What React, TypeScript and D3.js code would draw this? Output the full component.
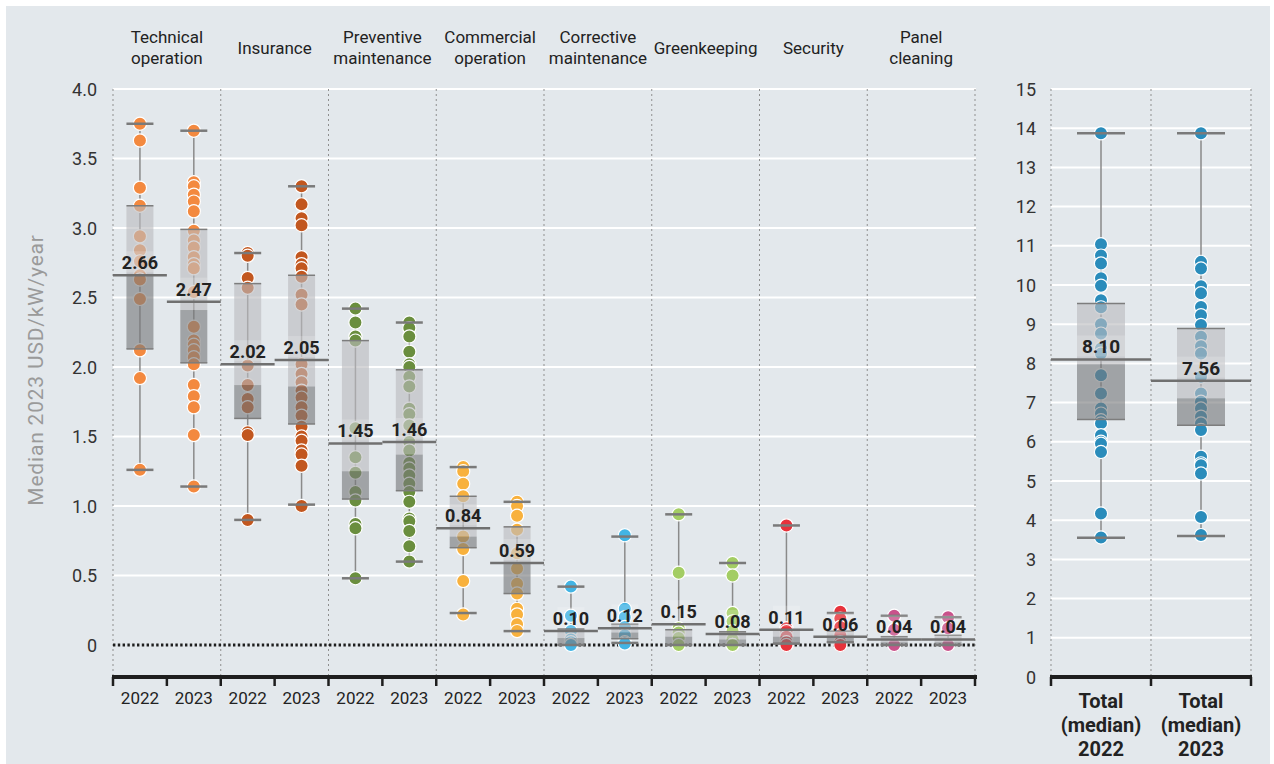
import React from "react";
import * as d3 from "d3";

const categories = ["Technical operation", "Insurance", "Preventive maintenance", "Commercial operation", "Corrective maintenance", "Greenkeeping", "Security", "Panel cleaning"];
const categoryLines = [["Technical", "operation"], ["Insurance"], ["Preventive", "maintenance"], ["Commercial", "operation"], ["Corrective", "maintenance"], ["Greenkeeping"], ["Security"], ["Panel", "cleaning"]];
const years = ["2022", "2023"];
const categoryColors = ["#f3893f", "#c2571f", "#6a8e3e", "#f8b13d", "#42b4e4", "#a3cd63", "#e7323b", "#c9528b"];
const totalColor = "#2a8cbb";

// points per category: [2022, 2023]
const technicalOperation = [
  [3.75, 3.63, 3.29, 3.16, 2.94, 2.84, 2.76, 2.66, 2.63, 2.49, 2.12, 1.92, 1.26],
  [3.70, 3.33, 3.30, 3.24, 3.19, 3.12, 2.98, 2.91, 2.86, 2.79, 2.74, 2.71, 2.54, 2.29, 2.19, 2.16, 2.12, 2.07, 2.02, 1.87, 1.79, 1.71, 1.51, 1.14],
];
const insurance = [
  [2.82, 2.80, 2.64, 2.57, 2.01, 1.87, 1.77, 1.71, 1.53, 1.51, 0.90],
  [3.30, 3.17, 3.07, 3.02, 2.79, 2.74, 2.71, 2.65, 2.52, 2.45, 2.02, 1.95, 1.89, 1.83, 1.78, 1.71, 1.65, 1.57, 1.50, 1.47, 1.40, 1.37, 1.29, 1.00],
];
const preventiveMaintenance = [
  [2.42, 2.32, 2.22, 2.19, 1.56, 1.35, 1.24, 1.10, 1.04, 0.87, 0.84, 0.48],
  [2.32, 2.28, 2.22, 2.11, 2.02, 2.00, 1.93, 1.86, 1.70, 1.66, 1.58, 1.46, 1.40, 1.31, 1.27, 1.22, 1.16, 1.10, 1.03, 0.91, 0.89, 0.82, 0.71, 0.60],
];
const commercialOperation = [
  [1.28, 1.25, 1.16, 1.07, 0.78, 0.69, 0.46, 0.22],
  [1.03, 1.00, 0.93, 0.83, 0.66, 0.55, 0.44, 0.37, 0.26, 0.22, 0.15, 0.10],
];
const correctiveMaintenance = [
  [0.42, 0.21, 0.10, 0.04, 0.02, 0.0, 0.0],
  [0.79, 0.26, 0.20, 0.13, 0.07, 0.02, 0.01],
];
const greenkeeping = [
  [0.94, 0.52, 0.12, 0.09, 0.05, 0.0],
  [0.59, 0.50, 0.23, 0.17, 0.10, 0.04, 0.0, 0.0],
];
const security = [
  [0.86, 0.12, 0.10, 0.06, 0.02, 0.0],
  [0.24, 0.19, 0.13, 0.07, 0.02, 0.0],
];
const panelCleaning = [
  [0.21, 0.11, 0.0],
  [0.20, 0.12, 0.0],
];
const categoryPoints = [technicalOperation, insurance, preventiveMaintenance, commercialOperation, correctiveMaintenance, greenkeeping, security, panelCleaning];

// box statistics, order: category x year
const boxMin = [1.26, 1.14, 0.90, 1.01, 0.48, 0.60, 0.23, 0.10, 0.0, 0.015, 0.0, 0.0, 0.01, 0.02, 0.0, 0.0];
const boxQ1 = [2.13, 2.03, 1.63, 1.59, 1.05, 1.11, 0.70, 0.37, 0.0, 0.045, 0.0, 0.0, 0.01, 0.02, 0.0, 0.0];
const boxMid = [2.67, 2.41, 1.87, 1.86, 1.25, 1.37, 0.78, 0.59, 0.05, 0.09, 0.06, 0.04, 0.06, 0.06, 0.02, 0.02];
const boxQ3 = [3.16, 2.99, 2.60, 2.66, 2.19, 1.98, 1.07, 0.85, 0.115, 0.15, 0.11, 0.095, 0.11, 0.10, 0.06, 0.07];
const boxMax = [3.75, 3.70, 2.82, 3.30, 2.42, 2.32, 1.28, 1.03, 0.42, 0.78, 0.94, 0.59, 0.86, 0.23, 0.21, 0.20];
const medianValues = [2.66, 2.47, 2.02, 2.05, 1.45, 1.46, 0.84, 0.59, 0.10, 0.12, 0.15, 0.08, 0.11, 0.06, 0.04, 0.04];

const totalLabels = ["2022", "2023"];
const totalPoints = [
  [13.87, 11.04, 10.75, 10.55, 10.17, 9.98, 9.61, 9.43, 9.0, 8.76, 8.38, 8.25, 7.70, 7.23, 6.85, 6.72, 6.55, 6.47, 6.17, 6.0, 5.95, 5.74, 4.17, 3.56],
  [13.87, 10.59, 10.42, 9.97, 9.79, 9.44, 9.23, 8.98, 8.68, 8.44, 8.25, 7.66, 7.23, 7.02, 6.85, 6.64, 6.47, 6.30, 5.62, 5.45, 5.40, 5.19, 4.08, 3.62],
];
const totalMin = [3.55, 3.60];
const totalQ1 = [6.57, 6.42];
const totalMid = [7.98, 7.11];
const totalQ3 = [9.53, 8.89];
const totalMax = [13.87, 13.87];
const totalMedian = [8.10, 7.56];

const leftTicks = [0, 0.5, 1.0, 1.5, 2.0, 2.5, 3.0, 3.5, 4.0];
const rightTicks = d3.range(0, 16);

const FONT = "Roboto, 'Noto Sans', sans-serif";
const BG = "#e3e8ec";
const LIGHT = "#bbbcbe";
const DARK = "#77797b";
const BOX_OPACITY = 0.62;

function BoxGroup({ cx, bandX0, bandW, boxW, y, pts, color, mn, q1, mid, q3, mx, med, fontSize }) {
  return (
    <g>
      <line x1={cx} x2={cx} y1={y(mx)} y2={y(mn)} stroke="#8a8a8a" strokeWidth={1.5} />
      {pts.map((v, i) => (
        <circle key={i} cx={cx} cy={y(v)} r={6.6} fill={color} stroke="#ffffff" strokeWidth={1.2} />
      ))}
      <rect x={cx - boxW / 2} y={y(q3)} width={boxW} height={Math.max(0, y(mid) - y(q3))} fill={LIGHT} opacity={BOX_OPACITY} />
      <rect x={cx - boxW / 2} y={y(mid)} width={boxW} height={Math.max(0, y(q1) - y(mid))} fill={DARK} opacity={BOX_OPACITY} />
      <line x1={cx - boxW / 2} x2={cx + boxW / 2} y1={y(q3)} y2={y(q3)} stroke="#7d7d7d" strokeWidth={1.5} />
      <line x1={cx - boxW / 2} x2={cx + boxW / 2} y1={y(q1)} y2={y(q1)} stroke="#7d7d7d" strokeWidth={1.5} />
      <line x1={cx - boxW / 2} x2={cx + boxW / 2} y1={y(mx)} y2={y(mx)} stroke="#7a7a7a" strokeWidth={2.5} />
      <line x1={cx - boxW / 2} x2={cx + boxW / 2} y1={y(mn)} y2={y(mn)} stroke="#7a7a7a" strokeWidth={2.5} />
      <rect x={cx - boxW / 2} y={y(med) - 24} width={boxW} height={21} fill="#ffffff" opacity={0.18} />
      <line x1={bandX0} x2={bandX0 + bandW} y1={y(med)} y2={y(med)} stroke="#707070" strokeWidth={2.5} />
      <text x={cx} y={y(med) - 6} textAnchor="middle" fontFamily={FONT} fontWeight={700} fontSize={fontSize} fill="#222">
        {med.toFixed(2)}
      </text>
    </g>
  );
}

export default function App() {
  const W = 1274, H = 764;
  const xCat = d3.scaleBand().domain(categories).range([113, 975]).padding(0);
  const xYear = d3.scaleBand().domain(years).range([0, xCat.bandwidth()]).padding(0);
  const yL = d3.scaleLinear().domain([0, 4]).range([645, 89]);
  const axisY = 677;
  const xTot = d3.scaleBand().domain(totalLabels).range([1051, 1251]).padding(0);
  const yR = d3.scaleLinear().domain([0, 15]).range([677, 89]);

  const leftBoundaries = categories.map((c) => xCat(c)).concat([xCat.range()[1]]);
  const leftSubBoundaries = [];
  categories.forEach((c) => years.forEach((yr) => leftSubBoundaries.push(xCat(c) + xYear(yr))));
  leftSubBoundaries.push(xCat.range()[1]);
  const rightBoundaries = totalLabels.map((t) => xTot(t)).concat([xTot.range()[1]]);

  return (
    <div style={{ position: "absolute", left: 0, top: 0 }}>
      <svg width={W} height={H} style={{ display: "block" }}>
        <rect x={0} y={0} width={W} height={H} fill="#ffffff" />
        <rect x={6} y={6} width={W - 10} height={H - 6} fill={BG} />

        {/* Left panel grid */}
        {leftTicks.filter((t) => t > 0).map((t) => (
          <line key={t} x1={113} x2={976} y1={yL(t)} y2={yL(t)} stroke="#ffffff" strokeWidth={2} />
        ))}
        {leftBoundaries.map((x, i) => (
          <line key={i} x1={x} x2={x} y1={89} y2={axisY} stroke="#8f8f8f" strokeWidth={1} strokeDasharray="2 3" />
        ))}
        <line x1={113} x2={976} y1={yL(0)} y2={yL(0)} stroke="#1e1e1e" strokeWidth={2.8} strokeDasharray="2.4 2.4" />
        {leftTicks.map((t) => (
          <text key={t} x={97} y={yL(t) + 6.5} textAnchor="end" fontFamily={FONT} fontSize={18} fill="#333">
            {t === 0 ? "0" : t.toFixed(1)}
          </text>
        ))}
        <text transform={`translate(43,370) rotate(-90)`} textAnchor="middle" fontFamily={FONT} fontSize={21} letterSpacing={0.8} fill="#9a9a9a">
          Median 2023 USD/kW/year
        </text>

        {/* Category headers */}
        {categories.map((c, i) => {
          const lines = categoryLines[i];
          const cx = xCat(c) + xCat.bandwidth() / 2;
          const ys = lines.length === 2 ? [43, 64] : [54];
          return lines.map((ln, j) => (
            <text key={c + j} x={cx} y={ys[j]} textAnchor="middle" fontFamily={FONT} fontSize={17} fill="#222">
              {ln}
            </text>
          ));
        })}

        {/* Left boxes */}
        {categories.map((c, ci) =>
          years.map((yr, yi) => {
            const idx = ci * 2 + yi;
            const bandX0 = xCat(c) + xYear(yr);
            const cx = bandX0 + xYear.bandwidth() / 2;
            return (
              <BoxGroup key={c + yr} cx={cx} bandX0={bandX0} bandW={xYear.bandwidth()} boxW={27} y={yL}
                pts={categoryPoints[ci][yi]} color={categoryColors[ci]}
                mn={boxMin[idx]} q1={boxQ1[idx]} mid={boxMid[idx]} q3={boxQ3[idx]} mx={boxMax[idx]} med={medianValues[idx]} fontSize={18} />
            );
          })
        )}

        {/* Left axis */}
        <line x1={112} x2={977} y1={axisY} y2={axisY} stroke="#1e1e1e" strokeWidth={4} />
        {leftSubBoundaries.map((x, i) => (
          <line key={i} x1={x} x2={x} y1={axisY} y2={axisY + 9} stroke="#1e1e1e" strokeWidth={2.5} />
        ))}
        {categories.map((c) =>
          years.map((yr) => (
            <text key={c + yr} x={xCat(c) + xYear(yr) + xYear.bandwidth() / 2} y={704} textAnchor="middle" fontFamily={FONT} fontSize={17} fill="#222">
              {yr}
            </text>
          ))
        )}

        {/* Right panel grid */}
        {rightTicks.filter((t) => t > 0).map((t) => (
          <line key={t} x1={1051} x2={1251} y1={yR(t)} y2={yR(t)} stroke="#ffffff" strokeWidth={2} />
        ))}
        {rightBoundaries.map((x, i) => (
          <line key={i} x1={x} x2={x} y1={89} y2={677} stroke="#8f8f8f" strokeWidth={1} strokeDasharray="2 3" />
        ))}
        {rightTicks.map((t) => (
          <text key={t} x={1036} y={yR(t) + 6.5} textAnchor="end" fontFamily={FONT} fontSize={18} fill="#333">
            {t}
          </text>
        ))}

        {totalLabels.map((t, i) => {
          const bandX0 = xTot(t);
          const cx = bandX0 + xTot.bandwidth() / 2;
          return (
            <BoxGroup key={t} cx={cx} bandX0={bandX0} bandW={xTot.bandwidth()} boxW={48} y={yR}
              pts={totalPoints[i]} color={totalColor}
              mn={totalMin[i]} q1={totalQ1[i]} mid={totalMid[i]} q3={totalQ3[i]} mx={totalMax[i]} med={totalMedian[i]} fontSize={19} />
          );
        })}

        <line x1={1050} x2={1252} y1={677} y2={677} stroke="#1e1e1e" strokeWidth={4} />
        {rightBoundaries.map((x, i) => (
          <line key={i} x1={x} x2={x} y1={677} y2={686} stroke="#1e1e1e" strokeWidth={2.5} />
        ))}
        {totalLabels.map((t) => {
          const cx = xTot(t) + xTot.bandwidth() / 2;
          return ["Total", "(median)", t].map((ln, j) => (
            <text key={t + j} x={cx} y={708 + j * 24} textAnchor="middle" fontFamily={FONT} fontWeight={700} fontSize={20} fill="#222">
              {ln}
            </text>
          ));
        })}
      </svg>
    </div>
  );
}
